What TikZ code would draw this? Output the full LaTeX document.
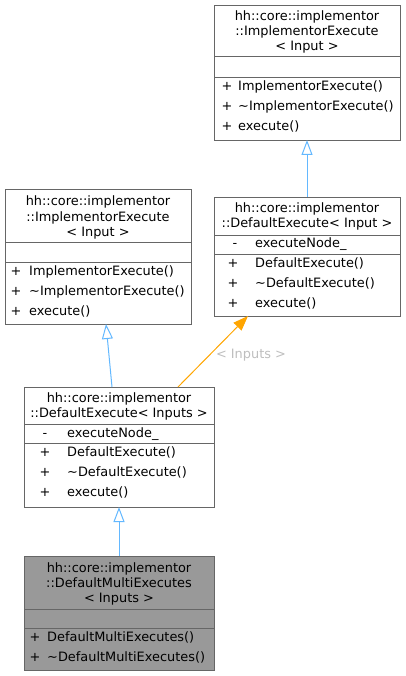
\documentclass[tikz,border=0pt]{standalone}
\usepackage{fontspec}
\setmainfont{DejaVu Sans}
\usetikzlibrary{arrows.meta,calc}
\definecolor{edgeblue}{HTML}{63B8FF}
\definecolor{boxborder}{HTML}{666666}
\definecolor{grayfill}{HTML}{999999}
\definecolor{labelgray}{HTML}{BEBEBE}
\definecolor{edgeorange}{HTML}{FFA500}
\begin{document}
\begin{tikzpicture}[x=1pt,y=-1pt,
  box/.style={draw=boxborder, line width=1pt, inner sep=0pt, anchor=north west, fill=white},
  sep/.style={draw=boxborder, line width=1pt},
  ttl/.style={font=\fontsize{12.9}{15}\selectfont, inner sep=0pt, anchor=base},
  mem/.style={font=\fontsize{12.9}{15}\selectfont, inner sep=0pt, anchor=base west},
  sym/.style={font=\fontsize{12.9}{15}\selectfont, inner sep=0pt, anchor=base},
  inherit/.style={draw=edgeblue, line width=1pt, -{Triangle[open, length=15pt, width=11pt, fill=white]}},
  templ/.style={draw=edgeorange, line width=1pt, -{Triangle[length=15pt, width=11pt]}},
  lbl/.style={font=\fontsize{12.9}{15}\selectfont, text=labelgray, inner sep=0pt}]
\useasboundingbox (0,0) rectangle (405,676);

% Box A: top right
\node[box, minimum width=186pt, minimum height=135pt] (A) at (214,5) {};
\draw[sep] (214,57) -- (400,57);
\draw[sep] (214,78) -- (400,78);
\node[ttl] (A1) at (307,21) {hh::core::implementor};
\node[ttl] (A2) at (307,36) {::ImplementorExecute};
\node[ttl] (A3) at (307,51) {< Input >};
\node[sym] (A4s) at (227,91) {+};
\node[mem] (A4) at (238,91) {ImplementorExecute()};
\node[sym] (A5s) at (227,111) {+};
\node[mem] (A5) at (238,111) {\char"223C ImplementorExecute()};
\node[sym] (A6s) at (227,131) {+};
\node[mem] (A6) at (238,131) {execute()};

% Box B: DefaultExecute< Input >
\node[box, minimum width=186pt, minimum height=119pt] (B) at (214,197) {};
\draw[sep] (214,235) -- (400,235);
\draw[sep] (214,254) -- (400,254);
\node[ttl] (B1) at (307,212) {hh::core::implementor};
\node[ttl] (B2) at (307,227) {::DefaultExecute< Input >};
\node[sym] (B3s) at (235,247) {-};
\node[mem] (B3) at (255,247) {executeNode\_};
\node[sym] (B4s) at (233,267) {+};
\node[mem] (B4) at (255,267) {DefaultExecute()};
\node[sym] (B5s) at (233,287) {+};
\node[mem] (B5) at (255,287) {\char"223C DefaultExecute()};
\node[sym] (B6s) at (233,307) {+};
\node[mem] (B6) at (255,307) {execute()};

% Box C: left ImplementorExecute
\node[box, minimum width=186pt, minimum height=135pt] (C) at (5,189) {};
\draw[sep] (5,242) -- (191,242);
\draw[sep] (5,262) -- (191,262);
\node[ttl] (C1) at (98,206) {hh::core::implementor};
\node[ttl] (C2) at (98,221) {::ImplementorExecute};
\node[ttl] (C3) at (98,236) {< Input >};
\node[sym] (C4s) at (16,275) {+};
\node[mem] (C4) at (29,275) {ImplementorExecute()};
\node[sym] (C5s) at (16,295) {+};
\node[mem] (C5) at (29,295) {\char"223C ImplementorExecute()};
\node[sym] (C6s) at (16,315) {+};
\node[mem] (C6) at (29,315) {execute()};

% Box D: DefaultExecute< Inputs >
\node[box, minimum width=190pt, minimum height=120pt] (D) at (24,387) {};
\draw[sep] (24,424) -- (214,424);
\draw[sep] (24,443) -- (214,443);
\node[ttl] (D1) at (119,402) {hh::core::implementor};
\node[ttl] (D2) at (119,417) {::DefaultExecute< Inputs >};
\node[sym] (D3s) at (45,437) {-};
\node[mem] (D3) at (67,437) {executeNode\_};
\node[sym] (D4s) at (45,456) {+};
\node[mem] (D4) at (67,456) {DefaultExecute()};
\node[sym] (D5s) at (45,476) {+};
\node[mem] (D5) at (67,476) {\char"223C DefaultExecute()};
\node[sym] (D6s) at (45,496) {+};
\node[mem] (D6) at (67,496) {execute()};

% Box E: DefaultMultiExecutes
\node[box, fill=grayfill, minimum width=190pt, minimum height=114pt] (E) at (24,556) {};
\draw[sep] (24,609) -- (214,609);
\draw[sep] (24,628) -- (214,628);
\node[ttl] (E1) at (119,572) {hh::core::implementor};
\node[ttl] (E2) at (119,587) {::DefaultMultiExecutes};
\node[ttl] (E3) at (119,602) {< Inputs >};
\node[sym] (E4s) at (35,641) {+};
\node[mem] (E4) at (47,641) {DefaultMultiExecutes()};
\node[sym] (E5s) at (35,661) {+};
\node[mem] (E5) at (47,661) {\char"223C DefaultMultiExecutes()};

% connectors
\coordinate (Bt) at (307,197);
\coordinate (Ab) at (307,140);
\draw[inherit] (Bt) -- (Ab);
\coordinate (Dt1) at (112,387);
\coordinate (Cb) at (106,324);
\draw[inherit] (Dt1) -- (Cb);
\coordinate (Dt2) at (178,387);
\coordinate (Bb) at (248,316);
\draw[templ] (Dt2) -- (Bb);
\node[lbl] (L) at (251,355) {< Inputs >};
\coordinate (Et) at (119,556);
\coordinate (Db) at (119,507);
\draw[inherit] (Et) -- (Db);
\end{tikzpicture}
\end{document}
